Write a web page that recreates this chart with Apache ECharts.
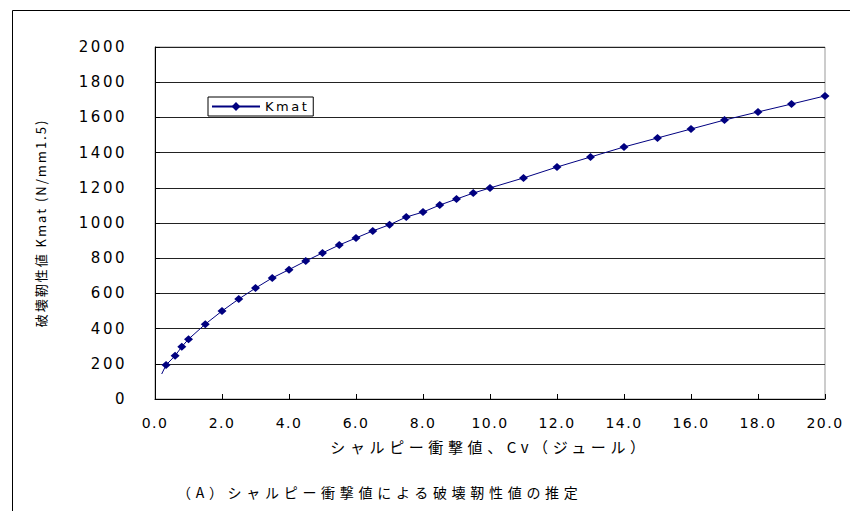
<!DOCTYPE html>
<html><head><meta charset="utf-8">
<script src="https://cdn.jsdelivr.net/npm/echarts@6/dist/echarts.min.js"></script>
<style>html,body{margin:0;padding:0;background:#fff}#c{width:850px;height:511px}</style>
</head><body><div id="c"></div>
<script>
const cv =   [0.2, 0.33, 0.6, 0.8, 1.0, 1.5, 2.0, 2.5, 3.0, 3.5, 4.0, 4.5, 5.0, 5.5, 6.0, 6.5, 7.0, 7.5, 8.0, 8.5, 9.0, 9.5, 10.0, 11, 12, 13, 14, 15, 16, 17, 18, 19, 20];
const kmat = [142, 193, 246, 297, 340, 425, 500, 568, 630, 688, 735, 784, 830, 875, 915, 955, 990, 1034, 1062, 1102, 1136, 1170, 1199, 1256, 1318, 1375, 1432, 1483, 1534, 1585, 1631, 1676, 1722];
const seriesName = 'Kmat';
const xTitle = 'シャルピー衝撃値、Cv（ジュール）';
const yTitle = '破壊靭性値 Kmat (N/mm1.5)';
const caption = '（A）シャルピー衝撃値による破壊靭性値の推定';

const data = cv.map((x, i) => i === 0 ? {value: [x, kmat[i]], symbol: 'none'} : [x, kmat[i]]);
const font = 'DejaVu Sans, sans-serif';
const jfont = 'Noto Sans CJK JP, sans-serif';
const chart = echarts.init(document.getElementById('c'), null, {renderer: 'svg'});
chart.setOption({
  animation: false,
  backgroundColor: '#fff',
  grid: {left: 155, right: 25, top: 47, bottom: 112, show: true, borderColor: '#999', borderWidth: 1},
  legend: {
    left: 208, top: 97, padding: [3, 14, 3, 3], itemWidth: 48, itemHeight: 11, itemGap: 0,
    backgroundColor: '#fff', borderColor: '#000', borderWidth: 1, borderRadius: 0,
    textStyle: {fontFamily: font, fontSize: 13, color: '#000'},
    data: [seriesName]
  },
  xAxis: {
    type: 'value', min: 0, max: 20, interval: 2,
    name: xTitle, nameLocation: 'middle', nameGap: 40,
    nameTextStyle: {fontFamily: jfont, fontSize: 15, color: '#000'},
    axisLine: {show: true, lineStyle: {color: '#000', width: 1}},
    axisTick: {show: true, inside: true, length: 5, lineStyle: {color: '#000'}},
    axisLabel: {fontFamily: font, fontSize: 14, color: '#000', margin: 17, formatter: v => v.toFixed(1)},
    splitLine: {show: false}
  },
  yAxis: {
    type: 'value', min: 0, max: 2000, interval: 200,
    name: yTitle, nameLocation: 'middle', nameGap: 108, nameRotate: 90,
    nameTextStyle: {fontFamily: jfont, fontSize: 13, color: '#000'},
    axisLine: {show: true, lineStyle: {color: '#000', width: 1}},
    axisTick: {show: true, inside: true, length: 5, lineStyle: {color: '#000'}},
    axisLabel: {fontFamily: font, fontSize: 15, color: '#000', margin: 28, formatter: v => String(v)},
    splitLine: {show: true, lineStyle: {color: '#222', width: 1}}
  },
  series: [{
    name: seriesName, type: 'line', data: data,
    symbol: 'diamond', symbolSize: [9, 8], showAllSymbol: true,
    lineStyle: {color: '#000080', width: 1}, itemStyle: {color: '#000080'},
    z: 5
  }],
  graphic: [
    {type: 'rect', left: 10, top: 8, shape: {width: 900, height: 600}, style: {fill: 'none', stroke: '#000', lineWidth: 1}, z: -1, silent: true},
    {type: 'text', left: 177, top: 485, style: {text: caption, fontSize: 14, fontFamily: jfont, fill: '#000'}}
  ]
});
// emulate the wide letter spacing of the original rendering
const spacing = t => {
  if (t === caption) return '4.7px';
  if (t === xTitle) return '4.6px';
  if (t === yTitle) return '2px';
  if (t === seriesName) return '2.5px';
  if (/^\d+\.\d$/.test(t)) return '1.5px';
  if (/^\d+$/.test(t)) return '2.5px';
  return null;
};
document.querySelectorAll('#c svg text').forEach(el => {
  const s = spacing(el.textContent.trim());
  if (s) el.style.letterSpacing = s;
});
</script></body></html>
